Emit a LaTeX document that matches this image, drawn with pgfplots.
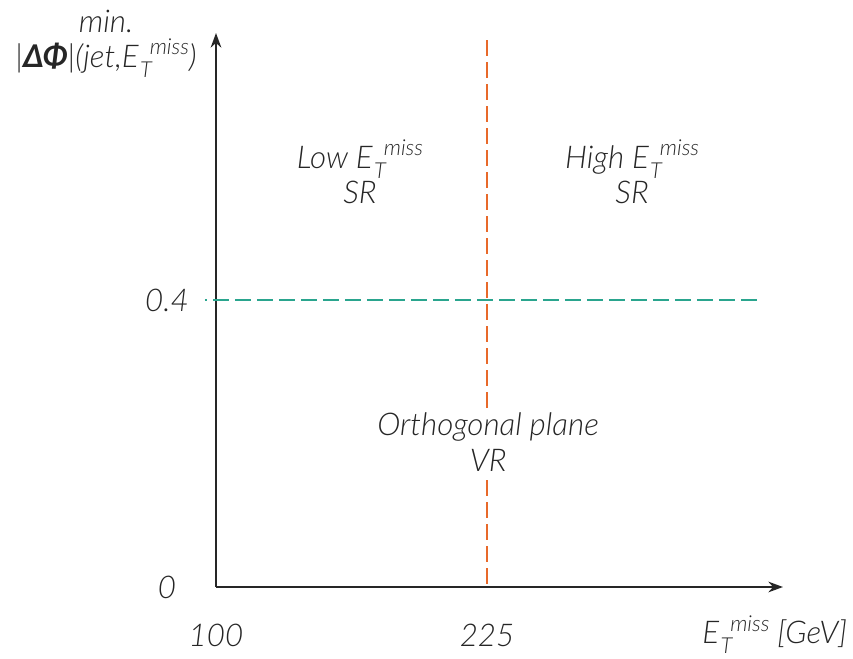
\documentclass[border=0pt]{standalone}
\usepackage{pgfplots}
\pgfplotsset{compat=1.18}
\usepackage{fontspec}
\setmainfont{Lato}[UprightFont={* Light Italic}, ItalicFont={* Light Italic}, BoldFont={* Bold Italic}]
\usetikzlibrary{arrows.meta}
\definecolor{orangeline}{HTML}{E8692A}
\definecolor{tealline}{HTML}{2AA58E}
\definecolor{axisgray}{HTML}{262626}
\newcommand\Emiss{E\kern1pt\raisebox{-7.5pt}{\fontsize{16.5}{18}\selectfont T}\kern-1.5pt\raisebox{9.5pt}{\fontsize{16.5}{18}\selectfont miss}}
\begin{document}
\fontsize{23.5}{26.5}\selectfont
\begin{tikzpicture}
\begin{axis}[
  scale only axis,
  width=425.25pt, height=415.5pt,
  xmin=100, xmax=361.5, ymin=0, ymax=0.772,
  axis lines=left,
  axis line style={line width=1.5pt, color=axisgray, -{Stealth[length=11pt,width=8pt]}},
  xtick={100,225}, xticklabels={100,225},
  ytick={0,0.4}, yticklabels={0,0.4},
  major tick length=0pt,
  tick label style={font=\fontsize{23.5}{26.5}\selectfont, text=axisgray},
  xticklabel style={anchor=center, yshift=-36pt},
  yticklabel style={anchor=center, xshift=-36.75pt},
  clip=false,
]
\addplot[orangeline, line width=1.5pt, dash pattern=on 12pt off 4.5pt] coordinates {(225,0.762) (225,0)};
\addplot[tealline, line width=1.5pt, dash pattern=on 12pt off 4.5pt, dash phase=10.5pt] coordinates {(94.9,0.4) (350.9,0.4)};
\node[align=center, font=\fontsize{23.5}{26.5}\selectfont, text=axisgray] at (axis cs:166.4,0.578) {Low \Emiss\\SR};
\node[align=center, font=\fontsize{23.5}{26.5}\selectfont, text=axisgray] at (axis cs:291.9,0.578) {High \Emiss\\SR};
\node[align=center, font=\fontsize{23.5}{26.5}\selectfont, text=axisgray, fill=white, inner sep=2pt] at (axis cs:225.5,0.202) {Orthogonal plane\\VR};
\node[anchor=east, font=\fontsize{23.5}{26.5}\selectfont, text=axisgray, inner sep=0pt] at (axis cs:391.2,-0.0665) {\Emiss{} [GeV]};
\node[align=center, font=\fontsize{23.5}{26.5}\selectfont, text=axisgray] at (axis cs:49.3,0.757) {min.\\|\textbf{ΔΦ}|(jet,\Emiss)};
\end{axis}
\pgfresetboundingbox
\path[use as bounding box] (-162pt,-53.25pt) rectangle (477.75pt,440.25pt);
\end{tikzpicture}
\end{document}
